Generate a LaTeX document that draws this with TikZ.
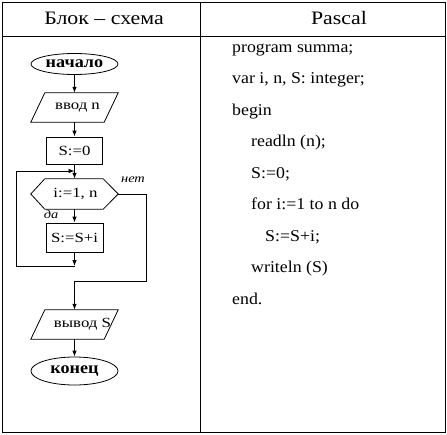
\documentclass[tikz,border=0pt]{standalone}
\usepackage{fontspec}
\setmainfont{Liberation Serif}
\newfontfamily\widef{Liberation Serif}[FakeStretch=1.2]
\newfontfamily\boldf{Liberation Serif}[FakeStretch=1.1]
\newfontfamily\codef{Liberation Serif}[FakeStretch=1.08]
\newfontfamily\hdrf{Liberation Serif}[FakeStretch=1.15]
\usetikzlibrary{shapes.geometric,arrows.meta,calc}
\begin{document}
\begin{tikzpicture}[x=1pt,y=-1pt,
  tab/.style={line width=1pt},
  fl/.style={line width=0.8pt},
  arr/.style={fl,-{Latex[length=6pt,width=4.5pt]}},
  box/.style={fl,draw,rectangle,inner sep=0pt,font=\widef\fontsize{14}{14}\selectfont},
  term/.style={fl,draw,ellipse,inner sep=0pt,minimum width=87pt,font=\boldf\bfseries\fontsize{16.5}{16.5}\selectfont},
  blank/.style={inner sep=0pt,minimum width=87pt,font=\widef\fontsize{14}{14}\selectfont},
  hdr/.style={anchor=base,font=\hdrf\fontsize{19}{19}\selectfont},
  code/.style={anchor=base west,inner sep=0pt,font=\codef\fontsize{16.5}{16.5}\selectfont},
  lbl/.style={inner sep=0pt,font=\widef\itshape\fontsize{12}{12}\selectfont}]
\useasboundingbox (0,0) rectangle (447,434);
% table
\draw[tab] (2,2) rectangle (445,432);
\draw[tab] (2,36) -- (445,36);
\draw[tab] (200,2) -- (200,432);
\node[hdr] (h1) at (104,24) {Блок – схема};
\node[hdr] (h2) at (339,24) {Pascal};
% code
\node[code] (c1) at (232,52) {program summa;};
\node[code] (c2) at (232,83.5) {var i, n, S: integer;};
\node[code] (c3) at (232,115) {begin};
\node[code] (c4) at (251,146.5) {readln (n);};
\node[code] (c5) at (251,178) {S:=0;};
\node[code] (c6) at (251,209.5) {for i:=1 to n do};
\node[code] (c7) at (265,241) {S:=S+i;};
\node[code] (c8) at (251,272.5) {writeln (S)};
\node[code] (c9) at (232,304) {end.};
% flowchart nodes
\node[term,minimum height=21pt] (start) at (74.5,64) {начало};
\node[blank,minimum height=29pt] (in) at (74.5,107.5) {\hspace{6pt}ввод n};
\draw[fl] ($(in.north west)+(14,0)$) -- (in.north east) -- ($(in.south east)+(-14,0)$) -- (in.south west) -- cycle;
\node[box,minimum width=56pt,minimum height=27pt] (init) at (74.5,150.5) {S:=0};
\node[blank,minimum height=30pt] (cond) at (74.5,194) {\hspace{2pt}i:=1, n};
\draw[fl] (cond.west) -- ($(cond.north west)+(14,0)$) -- ($(cond.north east)+(-15,0)$) -- (cond.east) -- ($(cond.south east)+(-15,0)$) -- ($(cond.south west)+(14,0)$) -- cycle;
\node[box,minimum width=57pt,minimum height=29pt] (body) at (74.5,237.5) {S:=S+i};
\node[blank,minimum height=29pt] (out) at (74.5,324.5) {\hspace{16pt}вывод S};
\draw[fl] ($(out.north west)+(14,0)$) -- (out.north east) -- ($(out.south east)+(-14,0)$) -- (out.south west) -- cycle;
\node[term,minimum height=28pt] (end) at (74.5,371) {конец};
% labels
\node[lbl] (no) at (133,180) {нет};
\node[lbl] (yes) at (51,214) {да};
% coordinates
\coordinate (lpb) at (74.5,266);
\coordinate (lpt) at (74.5,171);
\coordinate (nr) at (146,194);
\coordinate (nb) at (146,281);
\coordinate (nj) at (74.5,281);
% connectors
\draw[arr] (start) -- (in);
\draw[arr] (in) -- (init);
\draw[arr] (init) -- (cond);
\draw[arr] (cond) -- (body);
\draw[arr] (body) -- (lpb);
\draw[arr] (lpb) -- (16,266) -- (16,171) -- (lpt);
\draw[fl] (cond.east) -- (nr) -- (nb) -- (nj);
\draw[arr] (nj) -- (out);
\draw[arr] (out) -- (end);
\end{tikzpicture}
\end{document}
